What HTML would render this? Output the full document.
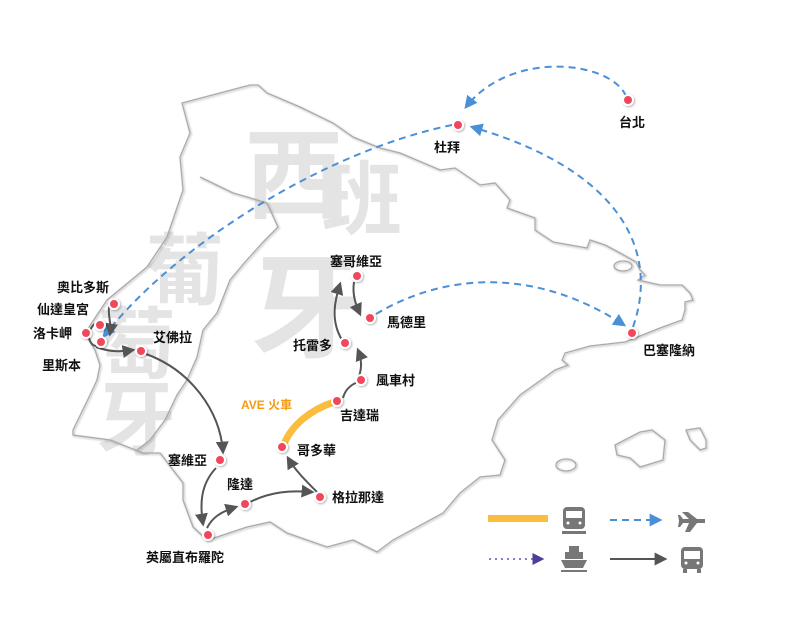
<!DOCTYPE html>
<html><head><meta charset="utf-8"><style>
html,body{margin:0;padding:0;background:#fff;}
svg{display:block;}
.l{font-family:"Liberation Sans","Noto Sans CJK TC",sans-serif;font-size:13px;font-weight:bold;fill:#111;}
.big{font-family:"Noto Sans CJK TC",sans-serif;font-weight:bold;fill:#e4e4e4;}
</style></head><body>
<svg width="800" height="640" viewBox="0 0 800 640" xmlns="http://www.w3.org/2000/svg">
<defs>
<marker id="ab" viewBox="0 0 10 10" refX="8" refY="5" markerWidth="13" markerHeight="13" orient="auto" markerUnits="userSpaceOnUse"><path d="M0,0L10,5L0,10z" fill="#4a90d6"/></marker>
<marker id="ag" viewBox="0 0 10 10" refX="8" refY="5" markerWidth="13" markerHeight="13" orient="auto" markerUnits="userSpaceOnUse"><path d="M0,0L10,5L0,10z" fill="#555"/></marker>
<marker id="ap" viewBox="0 0 10 10" refX="8" refY="5" markerWidth="12" markerHeight="12" orient="auto" markerUnits="userSpaceOnUse"><path d="M0,0L10,5L0,10z" fill="#4b3f9a"/></marker>
<filter id="sh"><feDropShadow dx="1" dy="1" stdDeviation="1" flood-color="#000" flood-opacity="0.3"/></filter>
</defs>
<!-- big text -->
<text class="big" x="245" y="210" font-size="98">西</text>
<text class="big" x="322" y="228" font-size="80">班</text>
<text class="big" x="250" y="348" font-size="112">牙</text>
<text class="big" x="146" y="298" font-size="78">葡</text>
<text class="big" x="98" y="372" font-size="78">萄</text>
<text class="big" x="96" y="448" font-size="80">牙</text>
<!-- map -->
<g fill="none" stroke="#aaa" stroke-width="1.3" filter="url(#sh)">
<path d="M182,103 L250,85 L258,85 L267,93 L300,107 L333,123 L353,137 L380,148 L400,153 L440,170 L455,168 L480,185 L495,183 L510,200 L507,208 L535,218 L535,230 L553,242 L587,248 L590,240 L605,245 L620,253 L636,262 L640,270 L645,275 L638,280 L660,285 L682,285 L690,293 L693,300 L685,302 L685,310 L682,320 L660,328 L635,338 L625,342 L590,346 L565,353 L562,360 L568,365 L555,370 L520,395 L498,420 L492,440 L505,460 L500,475 L480,477 L460,493 L443,513 L393,540 L377,552 L353,540 L327,547 L287,533 L270,522 L247,527 L217,537 L207,540 L193,527 L183,500 L183,483 L173,470 L160,453 L143,453 L110,440 L73,435 L73,430 L90,395 L97,380 L100,365 L95,350 L85,333 L107,300 L147,267 L167,237 L183,190 L180,157 L190,133 L182,103 Z"/>
<path d="M200,177 L233,193 L247,197 L267,203 L278,227 L265,240 L245,262 L230,280 L217,313 L203,330 L197,357 L187,380 L177,395 L165,420 L150,440 L137,450"/>
<ellipse cx="623" cy="266" rx="9" ry="5"/>
<path d="M615,445 L640,432 L652,430 L665,440 L663,460 L640,467 L630,458 L617,455 Z"/>
<path d="M686,430 L700,428 L706,440 L706,448 L700,450 L690,440 Z"/>
<ellipse cx="566" cy="465" rx="10" ry="6"/>
</g>
<!-- flights -->
<g fill="none" stroke="#4a90d6" stroke-width="2" stroke-dasharray="7,5">
<path d="M626,96 C610,60 510,50 466,107" marker-end="url(#ab)"/>
<path d="M452,125 C330,150 180,240 104,336" marker-end="url(#ab)"/>
<path d="M633,327 C660,250 620,170 472,127" marker-end="url(#ab)"/>
<path d="M376,314 C450,270 540,270 624,325" marker-end="url(#ab)"/>
</g>
<!-- train -->
<path d="M334,402 C310,410 292,425 284,444" fill="none" stroke="#fbbd3e" stroke-width="7"/>
<!-- bus -->
<g fill="none" stroke="#555" stroke-width="2">
<path d="M112,300 C105,310 112,320 110,334" marker-end="url(#ag)"/>
<path d="M97,322 C85,330 88,345 96,346"/>
<path d="M96,347 C110,352 120,352 133,350" marker-end="url(#ag)"/>
<path d="M146,354 C190,370 220,410 223,452" marker-end="url(#ag)"/>
<path d="M216,468 C200,485 200,505 203,524" marker-end="url(#ag)"/>
<path d="M207,528 C212,518 220,512 236,507" marker-end="url(#ag)"/>
<path d="M250,502 C270,492 290,490 312,492" marker-end="url(#ag)"/>
<path d="M317,492 C305,480 295,470 288,458" marker-end="url(#ag)"/>
<path d="M343,398 C345,390 350,385 358,382"/>
<path d="M359,376 C362,368 362,360 358,350" marker-end="url(#ag)"/>
<path d="M342,340 C330,320 335,300 340,284" marker-end="url(#ag)"/>
<path d="M354,282 C352,295 356,305 360,314" marker-end="url(#ag)"/>
</g>
<!-- nodes -->
<g fill="#f2475a" stroke="#fff" stroke-width="2" filter="url(#sh)">
<circle cx="628" cy="100" r="5"/><circle cx="458" cy="125" r="5"/><circle cx="357" cy="276" r="5"/><circle cx="370" cy="318" r="5"/><circle cx="632" cy="333" r="5"/>
<circle cx="114" cy="304" r="5"/><circle cx="100" cy="325" r="5"/><circle cx="86" cy="333" r="5"/><circle cx="101" cy="342" r="5"/><circle cx="141" cy="351" r="5"/>
<circle cx="345" cy="343" r="5"/><circle cx="361" cy="380" r="5"/><circle cx="337" cy="401" r="5"/><circle cx="282" cy="447" r="5"/><circle cx="220" cy="460" r="5"/><circle cx="245" cy="504" r="5"/><circle cx="320" cy="497" r="5"/><circle cx="208" cy="535" r="5"/>
</g>
<!-- labels -->
<text class="l" x="619" y="127">台北</text>
<text class="l" x="434" y="152">杜拜</text>
<text class="l" x="330" y="266">塞哥維亞</text>
<text class="l" x="387" y="327">馬德里</text>
<text class="l" x="643" y="355">巴塞隆納</text>
<text class="l" x="57" y="292">奧比多斯</text>
<text class="l" x="37" y="314">仙達皇宮</text>
<text class="l" x="33" y="338">洛卡岬</text>
<text class="l" x="42" y="370">里斯本</text>
<text class="l" x="153" y="342">艾佛拉</text>
<text class="l" x="293" y="350">托雷多</text>
<text class="l" x="376" y="385">風車村</text>
<text class="l" x="340" y="420">吉達瑞</text>
<text class="l" x="297" y="455">哥多華</text>
<text class="l" x="168" y="465">塞維亞</text>
<text class="l" x="227" y="489">隆達</text>
<text class="l" x="332" y="502">格拉那達</text>
<text class="l" x="146" y="562">英屬直布羅陀</text>
<text x="241" y="409" font-family="Liberation Sans,Noto Sans CJK TC,sans-serif" font-size="12" font-weight="bold" fill="#f39c12">AVE 火車</text>
<!-- legend -->
<rect x="488" y="515" width="60" height="7" fill="#fbbd3e"/>
<g fill="#777">
<rect x="563" y="507" width="22" height="22" rx="4"/>
<rect x="566" y="511" width="16" height="7" fill="#fff"/>
<circle cx="568" cy="523" r="1.5" fill="#fff"/><circle cx="580" cy="523" r="1.5" fill="#fff"/>
<rect x="562" y="531" width="24" height="3"/>
</g>
<path d="M610,520 H660" stroke="#4a90d6" stroke-width="2" stroke-dasharray="7,5" marker-end="url(#ab)"/>
<path d="M682,512 L688,512 L697,519 L705,519 L705,523 L697,523 L690,532 L685,532 L689,523 L683,523 L680,527 L678,527 L679,521 L678,515 L680,515 L683,519 L689,519 Z" fill="#777"/>
<path d="M489,559 H542" stroke="#8a7ad0" stroke-width="2" stroke-dasharray="2,4" marker-end="url(#ap)"/>
<g fill="#777">
<rect x="569" y="546" width="10" height="6"/>
<rect x="565" y="552" width="18" height="7"/>
<path d="M561,560 H587 L583,568 H565 Z"/>
<rect x="561" y="570" width="26" height="2"/>
</g>
<path d="M610,559 H665" stroke="#555" stroke-width="2" marker-end="url(#ag)"/>
<g fill="#777">
<rect x="681" y="547" width="22" height="22" rx="4"/>
<rect x="684" y="551" width="16" height="8" fill="#fff"/>
<circle cx="686" cy="563" r="1.5" fill="#fff"/><circle cx="698" cy="563" r="1.5" fill="#fff"/>
<rect x="683" y="569" width="4" height="4"/><rect x="697" y="569" width="4" height="4"/>
</g>
</svg>
</body></html>
